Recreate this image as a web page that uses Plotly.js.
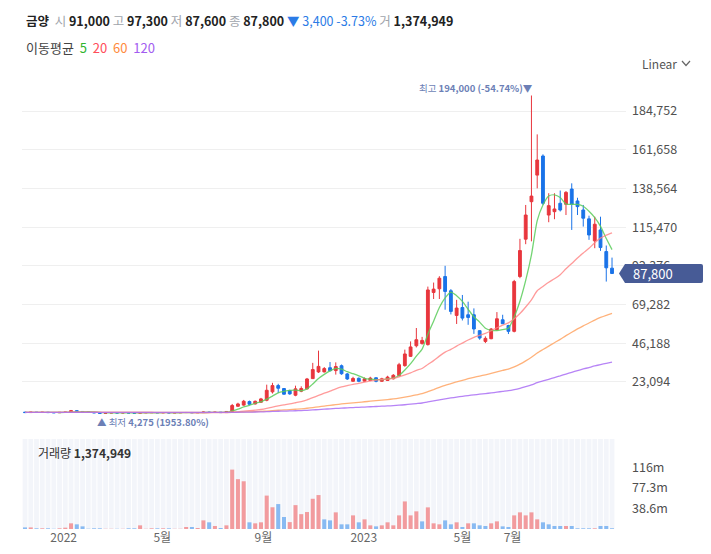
<!DOCTYPE html>
<html><head><meta charset="utf-8">
<script src="https://cdn.plot.ly/plotly-3.0.1.min.js"></script>
<style>html,body{margin:0;padding:0;background:#fff;}#chart{width:711px;height:554px;}</style>
</head><body><div id="chart"></div>
<script>
// ---------- DATA (weekly candles) ----------
const stockName = '금양';
const dates = [
'2021-11-15','2021-11-22','2021-11-29','2021-12-06','2021-12-13','2021-12-20','2021-12-27',
'2022-01-03','2022-01-10','2022-01-17','2022-01-24','2022-01-31','2022-02-07','2022-02-14','2022-02-21','2022-02-28',
'2022-03-07','2022-03-14','2022-03-21','2022-03-28','2022-04-04','2022-04-11','2022-04-18','2022-04-25',
'2022-05-02','2022-05-09','2022-05-16','2022-05-23','2022-05-30','2022-06-06','2022-06-13','2022-06-20','2022-06-27',
'2022-07-04','2022-07-11','2022-07-18','2022-07-25','2022-08-01','2022-08-08','2022-08-15','2022-08-22','2022-08-29',
'2022-09-05','2022-09-12','2022-09-19','2022-09-26','2022-10-03','2022-10-10','2022-10-17','2022-10-24','2022-10-31',
'2022-11-07','2022-11-14','2022-11-21','2022-11-28','2022-12-05','2022-12-12','2022-12-19','2022-12-26',
'2023-01-02','2023-01-09','2023-01-16','2023-01-23','2023-01-30','2023-02-06','2023-02-13','2023-02-20','2023-02-27',
'2023-03-06','2023-03-13','2023-03-20','2023-03-27','2023-04-03','2023-04-10','2023-04-17','2023-04-24',
'2023-05-01','2023-05-08','2023-05-15','2023-05-22','2023-05-29','2023-06-05','2023-06-12','2023-06-19','2023-06-26',
'2023-07-03','2023-07-10','2023-07-17','2023-07-24','2023-07-31','2023-08-07','2023-08-14','2023-08-21','2023-08-28',
'2023-09-04','2023-09-11','2023-09-18','2023-09-25','2023-10-02','2023-10-09','2023-10-16','2023-10-23','2023-10-30'
];
const openP = [5100,4850,5100,4900,5050,4850,4750,4950,5100,6000,5500,5300,4950,4700,4400,4600,4750,4600,4750,4600,
4500,4750,4800,4850,4700,4800,4650,4750,4850,4900,4750,4850,5150,4900,5100,4850,5550,8600,9300,11400,
10000,11000,12200,17200,20950,19200,18000,15200,17600,19000,25100,29100,29100,31600,29900,32800,27900,23500,25300,23600,
24000,25600,23500,24000,25000,26900,32850,38400,44700,46000,45400,76500,78700,86000,77500,62800,67500,63200,63200,53700,
47300,48900,54300,60200,56800,53300,86000,108300,130650,146500,157900,122700,124700,129700,129100,138200,131100,125700,120400,107300,
113800,100900,91000];
const highP = [5250,5200,5150,5150,5100,4950,5000,5200,6400,6200,5600,5350,5000,4750,4700,4850,4800,4800,4800,4650,
5000,4900,4950,4900,4900,4850,4800,4900,5000,4950,4950,5600,5400,5200,5150,5700,10000,10700,12400,12000,
12000,13600,21500,22600,22000,19500,18500,20900,20500,25500,34500,41800,32000,35000,34800,33500,28500,26200,25800,25800,
26200,25900,25600,26800,27800,34500,42400,47300,55300,50000,80000,82400,86200,92400,78500,72100,75000,71000,67000,54000,
50300,55300,64800,63200,57200,84000,108500,128700,194000,170800,158900,135700,135700,137300,137000,141600,133000,128700,122300,121700,
121700,104500,97300];
const lowP = [4800,4800,4850,4850,4800,4700,4700,4900,5050,5300,5200,4900,4650,4275,4350,4550,4550,4550,4550,4450,
4450,4650,4700,4650,4650,4600,4600,4700,4750,4700,4700,4800,4800,4850,4750,4800,5500,8300,8900,9500,
9700,10800,11600,16200,16600,15600,15500,14600,17000,18600,24900,28500,28800,29500,27500,27400,24300,23300,23000,23300,
23600,22900,23200,23700,24600,26200,32200,38000,43700,45400,44800,72600,72600,66200,63400,57700,59800,57200,51800,48300,
46300,48600,53800,57700,51700,52700,85000,105300,107000,138600,128700,118400,120200,124800,122700,113800,122700,115800,107900,102900,
101300,83000,87600];
const closeP = [4850,5100,4900,5050,4850,4750,4950,5100,6000,5500,5300,4950,4700,4400,4600,4750,4600,4750,4600,4500,
4750,4800,4850,4700,4800,4650,4750,4850,4900,4750,4850,5150,4900,5100,4850,5500,9050,10000,11600,9800,
11600,13000,18150,20950,19350,15800,16000,19000,19200,24900,30500,32400,31100,29800,32300,28000,24900,25200,23500,25000,
25400,23500,25000,26000,27100,33400,39800,44000,48300,47900,78000,78500,85000,77100,65200,67200,61200,61600,54700,49300,
49100,54700,60800,57850,53300,83000,101500,122700,134000,155500,129700,128300,126300,125700,136200,129100,127700,120800,110800,117200,
103300,91200,87800];
// weekly volume in millions of shares
const volumeM = [3,3,1.3,1.3,1.3,0.4,1.3,2.5,10.7,8.8,5,0.5,1.3,1.3,0.4,0.4,0.4,0.4,1.3,1.3,
6.9,0.4,1.3,1.3,1.3,1.3,0.4,0.4,3.8,3.8,1.9,16.3,12.6,5.7,1.9,6.9,112,94,90,12.6,
10.7,12.6,63,41,47,22.6,13,45,28,32,57,64,18.2,16.3,31.4,8.8,8.8,25.7,12.6,18.2,
6.9,5,6.9,12.6,6.9,25.7,52,25.7,33.3,14.4,40.8,10.7,8.8,16.3,8.8,12.6,3.8,10.7,10.7,6.9,
5.7,10.7,14.4,5,3.8,25.7,31.4,25.7,31.4,18.2,12.6,8.8,5.7,5.7,5.7,5.7,1.3,1.3,1.3,1.3,
5.7,5.7,1.374949];
const maPeriods = [5, 20, 60, 120];
const maSeedLevel = 5000; // level of all MA lines at the left edge (weeks before the window)
const priceTicks = [23094, 46188, 69282, 92376, 115470, 138564, 161658, 184752];
const volTicks = [38.65e6, 77.3e6, 115.95e6];
const volTickText = ['38.6m', '77.3m', '116m'];
const xTickVals = ['2022-01-01','2022-05-01','2022-09-01','2023-01-01','2023-05-01','2023-07-01'];
const xTickText = ['2022','5월','9월','2023','5월','7월'];

// ---------- STYLE / LAYOUT ----------
const FONT = "'Noto Sans CJK KR', 'Noto Sans', sans-serif";
const W = 711, H = 554, ML = 22, MR = 85, MT = 72, MB = 25;
const PW = W - ML - MR, PH = H - MT - MB;
const px = x => (x - ML) / PW;
const py = y => (H - MB - y) / PH;
const UP = '#e8363d', DOWN = '#1a73e8';
const VUP = '#f29b9e', VDOWN = '#88baf2';
const maColors = ['rgba(90,205,90,0.85)', 'rgba(255,130,130,0.8)', 'rgba(255,165,100,0.85)', 'rgba(170,110,245,0.85)'];
const maLabelColors = ['#2fb52f', '#ff4d5a', '#ff8a3d', '#a25cf0'];

const n = closeP.length;
const volume = volumeM.map(v => v * 1e6);
const fmt = v => Math.round(v).toLocaleString('en-US');

function movingAvg(p) {
  return closeP.map((_, i) => {
    let s = 0;
    for (let k = i - p + 1; k <= i; k++) s += (k >= 0 ? closeP[k] : maSeedLevel);
    return s / p;
  });
}

const volColors = closeP.map((c, i) => {
  const up = i === 0 ? c >= openP[i] : c >= closeP[i - 1];
  return up ? VUP : VDOWN;
});

const traces = [];
traces.push({
  type: 'candlestick', x: dates, open: openP, high: highP, low: lowP, close: closeP,
  xaxis: 'x', yaxis: 'y', hoverinfo: 'skip',
  increasing: { line: { color: UP, width: 1 }, fillcolor: UP },
  decreasing: { line: { color: DOWN, width: 1 }, fillcolor: DOWN },
  whiskerwidth: 0
});
maPeriods.forEach((p, j) => {
  traces.push({
    type: 'scatter', mode: 'lines', x: dates, y: movingAvg(p), xaxis: 'x', yaxis: 'y',
    line: { color: maColors[j], width: 1.3, shape: 'spline', smoothing: 0.6 }, hoverinfo: 'skip'
  });
});
traces.push({
  type: 'bar', x: dates, y: volume, xaxis: 'x2', yaxis: 'y2',
  marker: { color: volColors, line: { width: 0 } }, hoverinfo: 'skip'
});

// background stripes of the volume panel
const DAY = 864e5;
const toStr = ms => new Date(ms).toISOString().slice(0, 19).replace('T', ' ');
const shapes = dates.map(d => {
  const ms = Date.parse(d);
  return { type: 'rect', xref: 'x2', yref: 'y2 domain', x0: toStr(ms - 2.9 * DAY), x1: toStr(ms + 2.9 * DAY),
    y0: 0, y1: 1, fillcolor: '#f3f5fa', line: { width: 0 }, layer: 'below' };
});

const last = n - 1;
const chg = closeP[last] - closeP[last - 1];
const pct = chg / closeP[last - 1] * 100;
const hiIdx = highP.indexOf(Math.max(...highP));
const loIdx = lowP.indexOf(Math.min(...lowP));
const hiPct = (closeP[last] / highP[hiIdx] - 1) * 100;
const loPct = (closeP[last] / lowP[loIdx] - 1) * 100;

// price badge
shapes.push({
  type: 'path', xref: 'paper', yref: 'y', xsizemode: 'pixel', ysizemode: 'pixel',
  xanchor: 1, yanchor: closeP[last],
  path: 'M -7 0 L -1 9.5 L 75 9.5 Q 77 9.5 77 7.5 L 77 -7.5 Q 77 -9.5 75 -9.5 L -1 -9.5 Z',
  fillcolor: '#475b96', line: { width: 0 }, layer: 'above'
});
// chevron next to "Linear"
shapes.push({
  type: 'path', xref: 'paper', yref: 'paper',
  path: `M ${px(682)} ${py(61)} L ${px(686)} ${py(65.5)} L ${px(690)} ${py(61)}`,
  line: { color: '#666', width: 1.2 }
});

const G = '#a0a4ab';
const header = `<b>${stockName}</b>\u00a0 <span style="color:${G}">시</span> <b>${fmt(openP[last])}</b> ` +
  `<span style="color:${G}">고</span> <b>${fmt(highP[last])}</b> ` +
  `<span style="color:${G}">저</span> <b>${fmt(lowP[last])}</b> ` +
  `<span style="color:${G}">종</span> <b>${fmt(closeP[last])}</b> ` +
  `<span style="color:#2b7be6">${chg < 0 ? '▼' : '▲'} ${fmt(Math.abs(chg))} ${pct.toFixed(2)}%</span> ` +
  `<span style="color:${G}">거</span> <b>${fmt(volume[last])}</b>`;
const maLegend = `<span style="color:#444">이동평균</span>\u00a0 ` +
  maPeriods.map((p, j) => `<span style="color:${maLabelColors[j]}">${p}</span>`).join('\u00a0 ');

const annotations = [
  { xref: 'paper', yref: 'paper', x: px(24), y: py(21), xanchor: 'left', yanchor: 'middle', showarrow: false,
    text: header, font: { family: FONT, size: 12.5, color: '#222' } },
  { xref: 'paper', yref: 'paper', x: px(24), y: py(48), xanchor: 'left', yanchor: 'middle', showarrow: false,
    text: maLegend, font: { family: FONT, size: 13, color: '#444' } },
  { xref: 'paper', yref: 'paper', x: px(640), y: py(63), xanchor: 'left', yanchor: 'middle', showarrow: false,
    text: 'Linear', font: { family: FONT, size: 12, color: '#555' } },
  { xref: 'paper', yref: 'paper', x: px(36), y: py(452), xanchor: 'left', yanchor: 'middle', showarrow: false,
    text: `거래량 <b>${fmt(volume[last])}</b>`, font: { family: FONT, size: 12, color: '#333' } },
  { xref: 'x', yref: 'y', x: dates[hiIdx], y: highP[hiIdx], xanchor: 'right', yanchor: 'bottom', xshift: 4, yshift: -1,
    showarrow: false, text: `최고 <b>${fmt(highP[hiIdx])} (${hiPct.toFixed(2)}%)</b>▼`,
    font: { family: FONT, size: 9.5, color: '#6c7fb6' } },
  { xref: 'x', yref: 'y', x: dates[loIdx], y: lowP[loIdx], xanchor: 'left', yanchor: 'top', xshift: -5, yshift: 1,
    showarrow: false, text: `▲ 최저 <b>${fmt(lowP[loIdx])} (${loPct.toFixed(2)}%)</b>`,
    font: { family: FONT, size: 9.5, color: '#6c7fb6' } },
  { xref: 'paper', yref: 'y', x: px(631), y: closeP[last], xanchor: 'left', yanchor: 'middle', showarrow: false,
    text: fmt(closeP[last]), font: { family: FONT, size: 13, color: '#ffffff' } }
];

const xRange = ['2021-11-11 08:24', '2023-11-16 00:00'];
const layout = {
  width: W, height: H, margin: { l: ML, r: MR, t: MT, b: MB, pad: 0 },
  paper_bgcolor: '#fff', plot_bgcolor: 'rgba(0,0,0,0)',
  showlegend: false, hovermode: false, dragmode: false, bargap: 0.3,
  font: { family: FONT, size: 12, color: '#555' },
  xaxis: { type: 'date', range: xRange, anchor: 'y', showticklabels: false, showgrid: false, zeroline: false,
    showline: false, ticks: '', rangeslider: { visible: false } },
  xaxis2: { type: 'date', matches: 'x', anchor: 'y2', showgrid: false, zeroline: false, showline: false, ticks: '',
    tickmode: 'array', tickvals: xTickVals, ticktext: xTickText, tickfont: { family: FONT, size: 12, color: '#666' } },
  yaxis: { domain: [py(434), 1], range: [-7934, 208017], side: 'right', anchor: 'x', tickmode: 'array',
    tickvals: priceTicks, ticktext: priceTicks.map(fmt), showgrid: true, gridcolor: '#efefef', gridwidth: 1,
    zeroline: false, showline: false, ticks: '', ticklabelstandoff: 5,
    tickfont: { family: FONT, size: 12.5, color: '#505050' } },
  yaxis2: { domain: [0, py(439)], range: [0, 169.7e6], side: 'right', anchor: 'x2', tickmode: 'array',
    tickvals: volTicks, ticktext: volTickText, showgrid: false, zeroline: false, showline: false, ticks: '',
    ticklabelstandoff: 5, tickfont: { family: FONT, size: 12.5, color: '#505050' } },
  shapes: shapes, annotations: annotations
};

Plotly.newPlot('chart', traces, layout, { staticPlot: true, displayModeBar: false });
</script>
</body></html>
